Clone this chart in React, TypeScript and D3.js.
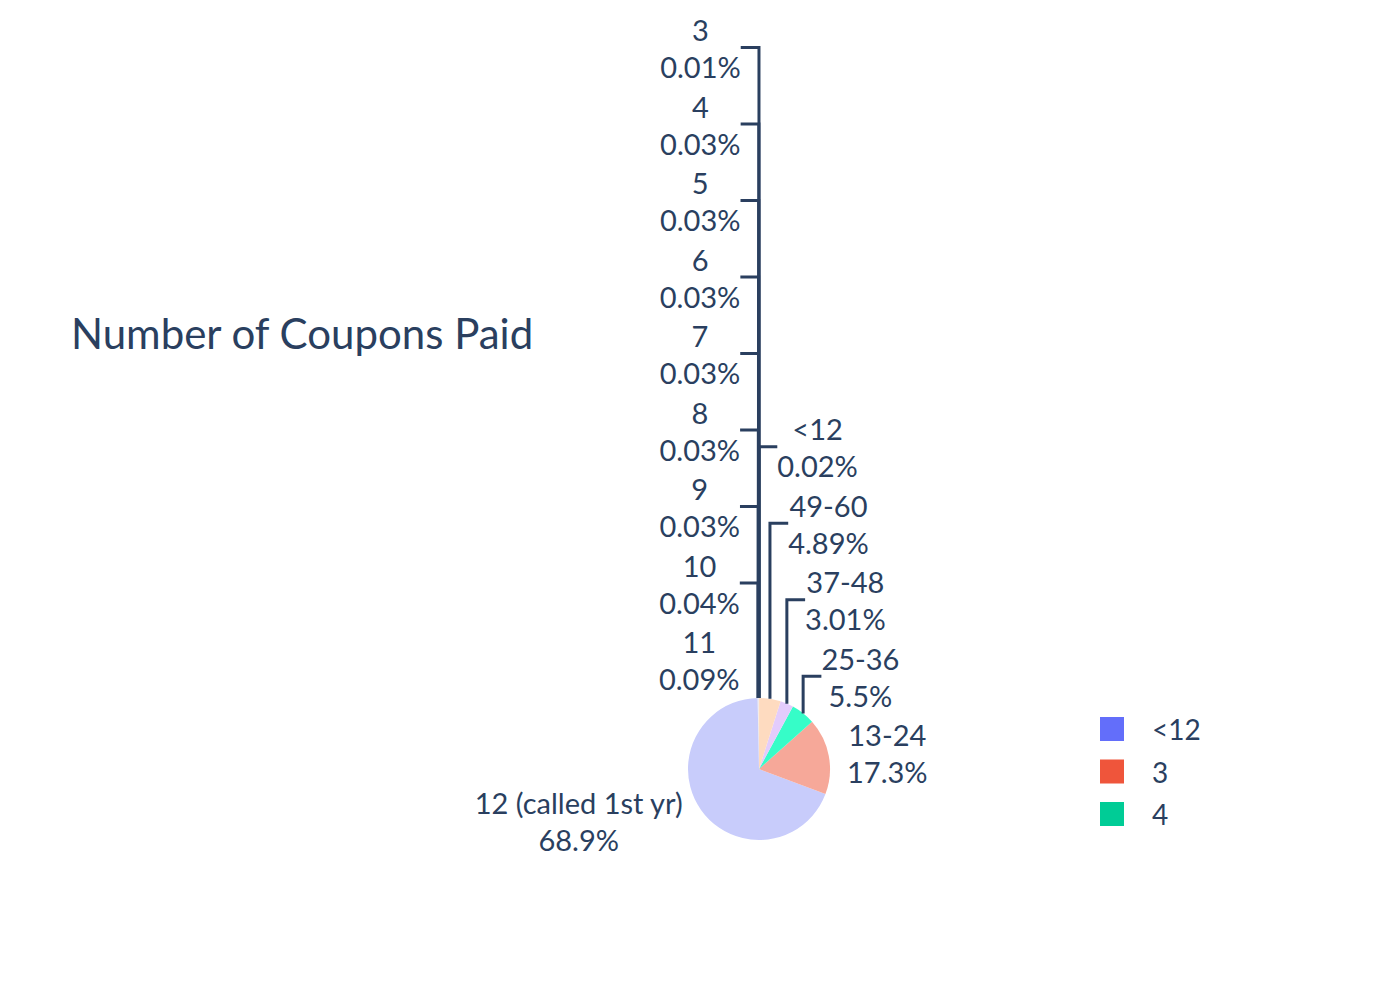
import React, { useEffect, useRef } from "react";
import * as d3 from "d3";

// slice order as in the source data (first slice sits just right of 12 o'clock,
// the rest run counterclockwise from the top)
const labels = [
  "<12", "3", "4", "5", "6", "7", "8", "9", "10", "11",
  "12 (called 1st yr)", "13-24", "25-36", "37-48", "49-60",
];
const percents = [
  0.02, 0.01, 0.03, 0.03, 0.03, 0.03, 0.03, 0.03, 0.04, 0.09,
  68.9, 17.3, 5.5, 3.01, 4.89,
];
const sliceColors = [
  "#C8CCFB", "#F9BBB1", "#A6EDDA", "#E2CCFC", "#FFDCC0",
  "#B0EEFA", "#FFCADA", "#E5F6D6", "#FFDBFF", "#FFEEC9",
  "#C8CCFB", "#F6A899", "#36FDC8", "#E3CCFC", "#FEDBC0",
];
const legendLabels = ["<12", "3", "4"];
const legendColors = ["#636EFA", "#EF553B", "#00CC96"];
const title = "Number of Coupons Paid";

const App: React.FC = () => {
  const svgRef = useRef<SVGSVGElement | null>(null);

  useEffect(() => {
    document.body.style.margin = "0";
    const svg = d3.select(svgRef.current);
    svg.selectAll("*").remove();

    const cx = 759, cy = 769, r = 71;
    const font = "Lato, 'Source Sans Pro', sans-serif";
    const textColor = "#2a3f5f";
    const lineGap = 37; // between name line and percent line
    const boxH = 73; // label box height for outside placement
    const stackH = 76.5; // spacing when labels get pushed
    const capHalf = 10;

    const total = d3.sum(percents);
    const a0 = (percents[0] / total) * 2 * Math.PI;
    const arcs = d3
      .pie<number>()
      .sort(null)
      .value(d => d)
      .startAngle(a0)
      .endAngle(a0 - 2 * Math.PI)(percents);

    const arc = d3.arc<any>().innerRadius(0).outerRadius(r);

    // Pie slices
    svg
      .append("g")
      .attr("transform", `translate(${cx},${cy})`)
      .selectAll("path")
      .data(arcs)
      .join("path")
      .attr("d", d => arc(d) as string)
      .attr("fill", (d, i) => sliceColors[i]);

    const lineLayer = svg.append("g");
    const labelLayer = svg.append("g");

    const items = arcs.map((a, i) => {
      const m = (a.startAngle + a.endAngle) / 2;
      const px = r * Math.sin(m);
      const py = -r * Math.cos(m);
      const lab = labelLayer.append("g");
      const name = lab
        .append("text")
        .attr("text-anchor", "middle")
        .attr("font-family", font)
        .attr("font-size", 29)
        .attr("fill", textColor)
        .text(labels[i]);
      const pct = lab
        .append("text")
        .attr("text-anchor", "middle")
        .attr("font-family", font)
        .attr("font-size", 29)
        .attr("fill", textColor)
        .text(`${percents[i]}%`);
      const w = Math.max(
        (name.node() as SVGTextElement).getComputedTextLength(),
        (pct.node() as SVGTextElement).getComputedTextLength()
      );
      const sx = px < 0 ? -1 : 1;
      const dx = (w / 2) * sx;
      const dy = (boxH / 2) * (py < 0 ? -1 : 1);
      const tx = dx + (Math.abs(dy) * sx) / 2;
      const ty = dy / (1 + (px * px) / (py * py));
      return {
        m, px, py, sx, dy, name, pct,
        x: cx + px + tx,
        y0: cy + py + ty,
        y: cy + py + ty,
      };
    });

    // push overlapping labels upward in the top half, per side
    const norm = (m: number) => Math.atan2(Math.sin(m), Math.cos(m));
    [1, -1].forEach(side => {
      const group = items
        .filter(d => Math.cos(d.m) > 0 && d.sx === side)
        .sort((a, b) => Math.abs(norm(b.m)) - Math.abs(norm(a.m)));
      let prev = Infinity;
      group.forEach(d => {
        d.y = Math.min(d.y0, prev - stackH);
        prev = d.y;
      });
    });

    items.forEach(d => {
      d.name.attr("x", d.x).attr("y", d.y - lineGap / 2 + capHalf);
      d.pct.attr("x", d.x).attr("y", d.y + lineGap / 2 + capHalf);
      if (d.y0 - d.y > 0.5) {
        const x1 = cx + d.px;
        const y1 = cy + d.py;
        lineLayer
          .append("path")
          .attr("d", `M${x1},${y1}V${d.y - 2}H${x1 + (d.sx * Math.abs(d.dy)) / 2}`)
          .attr("fill", "none")
          .attr("stroke", textColor)
          .attr("stroke-width", 3);
      }
    });

    // Title
    svg
      .append("text")
      .attr("x", 71)
      .attr("y", 349)
      .attr("font-family", font)
      .attr("font-size", 42)
      .attr("fill", textColor)
      .text(title);

    // Legend
    const legend = svg.append("g").attr("transform", "translate(1100, 729)");
    legendLabels.forEach((key, i) => {
      const g = legend.append("g").attr("transform", `translate(0, ${i * 42.5})`);
      g.append("rect").attr("x", 0).attr("y", -12).attr("width", 24).attr("height", 24).attr("fill", legendColors[i]);
      g.append("text")
        .attr("x", 52)
        .attr("y", 11)
        .attr("font-family", font)
        .attr("font-size", 28)
        .attr("fill", textColor)
        .text(key);
    });
  }, []);

  return <svg ref={svgRef} width={1400} height={1000} style={{ display: "block" }}></svg>;
};

export default App;
